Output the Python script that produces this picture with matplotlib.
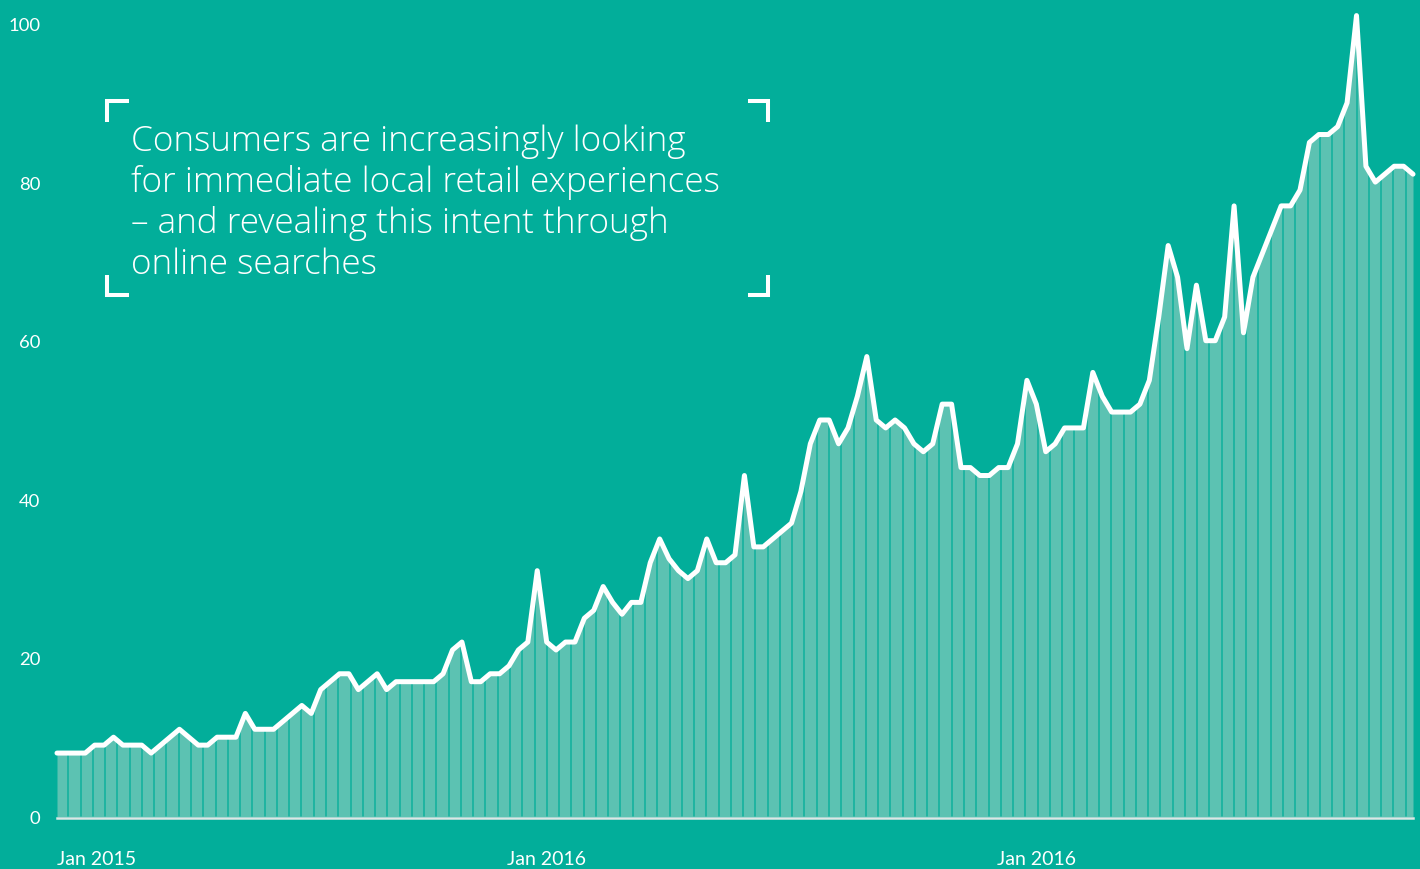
import matplotlib
matplotlib.use('Agg')
import matplotlib.pyplot as plt
import numpy as np
from matplotlib.lines import Line2D

# ---------------- data (weekly search interest) ----------------
interest = [8, 8, 8, 8, 9, 9, 10, 9, 9, 9,
            8, 9, 10, 11, 10, 9, 9, 10, 10, 10,
            13, 11, 11, 11, 12, 13, 14, 13, 16, 17,
            18, 18, 16, 17, 18, 16, 17, 17, 17, 17,
            17, 18, 21, 22, 17, 17, 18, 18, 19, 21,
            22, 31, 22, 21, 22, 22, 25, 26, 29, 27,
            25.5, 27, 27, 32, 35, 32.5, 31, 30, 31, 35,
            32, 32, 33, 43, 34, 34, 35, 36, 37, 41,
            47, 50, 50, 47, 49, 53, 58, 50, 49, 50,
            49, 47, 46, 47, 52, 52, 44, 44, 43, 43,
            44, 44, 47, 55, 52, 46, 47, 49, 49, 49,
            56, 53, 51, 51, 51, 52, 55, 63, 72, 68,
            59, 67, 60, 60, 63, 77, 61, 68, 71, 74,
            77, 77, 79, 85, 86, 86, 87, 90, 101, 82,
            80, 81, 82, 82, 81]
x_tick_weeks = [0, 52, 104]
x_tick_labels = ['Jan 2015', 'Jan 2016', 'Jan 2016']
y_ticks = [0, 20, 40, 60, 80, 100]
caption_lines = ['Consumers are increasingly looking',
                 'for immediate local retail experiences',
                 '\u2013 and revealing this intent through',
                 'online searches']

# ---------------- style ----------------
BG = '#02AE9A'
FILL = '#5CC2B2'
STRIPE = '#0FB09C'
BASE = '#DDE7E5'
FONT = 'Lato'
CAPTION_FONT = 'Open Sans'
W, H = 1420, 870

fig = plt.figure(figsize=(W / 100, H / 100), dpi=100, facecolor=BG)
left_px, right_px, zero_px = 57, 1413, 817.5
px_per_unit = 7.93
ax = fig.add_axes([left_px / W, (H - zero_px) / H, (right_px - left_px) / W, zero_px / H])
ax.set_facecolor(BG)

x = np.arange(len(interest))
ymax = zero_px / px_per_unit
ax.set_xlim(0, len(interest) - 1)
ax.set_ylim(0, ymax)

area = ax.fill_between(x, interest, 0, color=FILL, lw=0, zorder=1)
# decorative vertical stripe pattern inside the area
stripe_step = 12.27 / ((right_px - left_px) / (len(interest) - 1))
stripes = ax.vlines(np.arange(1.2, len(interest) - 1, stripe_step), 0, ymax,
                    colors=STRIPE, linewidth=1.1, zorder=2)
stripes.set_clip_path(area.get_paths()[0], ax.transData)

ax.plot(x, interest, color='white', lw=3.6, solid_joinstyle='round',
        solid_capstyle='round', clip_on=False, zorder=3)

for s in ['top', 'right', 'left']:
    ax.spines[s].set_visible(False)
ax.spines['bottom'].set_color(BASE)
ax.spines['bottom'].set_linewidth(1.8)
ax.spines['bottom'].set_position(('outward', 1.4))
ax.spines['bottom'].set_zorder(4)

ax.set_yticks(y_ticks)
ax.set_yticklabels([str(v) for v in y_ticks])
ax.set_xticks(x_tick_weeks)
ax.set_xticklabels(x_tick_labels)
ax.tick_params(axis='y', length=0, pad=12.2, labelcolor='white', labelsize=13.3)
ax.tick_params(axis='x', length=0, pad=22.5, labelcolor='white', labelsize=14)
for lab in ax.get_yticklabels() + ax.get_xticklabels():
    lab.set_fontfamily(FONT)
ax.get_xticklabels()[0].set_ha('left')

# ---------------- caption with corner brackets ----------------
baselines = [150.7, 192, 233, 274]
for line, yb in zip(caption_lines, baselines):
    fig.text(131 / W, 1 - yb / H, line, color='white', fontsize=25.3,
             fontfamily=CAPTION_FONT, fontweight='light', ha='left', va='baseline')

def fpt(px, py):
    return px / W, 1 - py / H

corners = [((129, 102), (107, 102), (107, 123)),
           ((748, 102), (768, 102), (768, 123)),
           ((129, 296), (107, 296), (107, 276)),
           ((748, 296), (768, 296), (768, 276))]
for pts in corners:
    xs, ys = zip(*[fpt(*p) for p in pts])
    fig.add_artist(Line2D(xs, ys, color='white', lw=2.9,
                          solid_joinstyle='miter', solid_capstyle='butt'))

fig.savefig('out.png', dpi=100, facecolor=BG)
